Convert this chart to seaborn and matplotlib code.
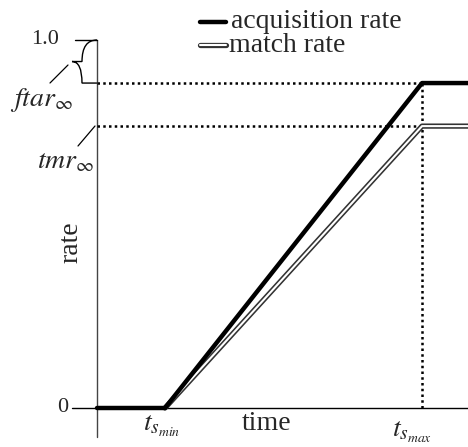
import numpy as np
import pandas as pd
import matplotlib
matplotlib.use("Agg")
import matplotlib.pyplot as plt
import seaborn as sns
from matplotlib.path import Path
from matplotlib.patches import PathPatch

# values (time in units of ts_min)
time_pts = [0.0, 1.0, 4.78, 5.5]
acq_rate = [0.0, 0.0, 0.883, 0.883]
match_time = [1.0, 4.78, 5.5]
match_rate = [0.0, 0.766, 0.766]
ftar_inf = 0.883
tmr_inf = 0.766
ts_min, ts_max = 1.0, 4.78

sns.set_style("white")
plt.rcParams['font.family'] = ['Liberation Serif', 'DejaVu Serif']
plt.rcParams['mathtext.fontset'] = 'stix'

# pixel -> data helpers for placing the hand-drawn annotations
def X(px):
    return (px - 97) / 68

def Y(py):
    return (408 - py) / 368

fig = plt.figure(figsize=(4.68, 4.47), dpi=100)
ax = fig.add_axes([0, 0, 1, 1])

acq = pd.DataFrame({'time': time_pts, 'rate': acq_rate})
mat = pd.DataFrame({'time': match_time, 'rate': match_rate})

# axes drawn by hand, like the original sketch
ax.plot([0, 0], [Y(437), 1.0], color='#444444', lw=1.0)
ax.plot([X(72), 6], [0, 0], color='black', lw=1.0)
ax.plot([X(75), 0], [1.0, 1.0], color='black', lw=1.0)

# dotted guides
dots = dict(color='black', lw=1.8, ls=(0, (1, 1.3)))
ax.plot([0, ts_max], [ftar_inf, ftar_inf], **dots)
ax.plot([0, ts_max], [tmr_inf, tmr_inf], **dots)
ax.plot([ts_max, ts_max], [0, ftar_inf], **dots)

# match rate: double line
sns.lineplot(data=mat, x='time', y='rate', ax=ax, color='#333333', lw=3.8, sort=False)
sns.lineplot(data=mat, x='time', y='rate', ax=ax, color='white', lw=1.5, sort=False)
# acquisition rate: thick line
sns.lineplot(data=acq, x='time', y='rate', ax=ax, color='black', lw=3.2, sort=False)
ax.set_xlim(X(0), X(468))
ax.set_ylim(Y(447), Y(0))
ax.axis('off')

# brace between 1.0 and ftar
x0 = 0.0
ym = (1.0 + ftar_inf) / 2
verts = [(x0, 1.0), (X(82), 1.0), (X(82), ym), (X(72), ym),
         (X(82), ym), (X(82), ftar_inf), (x0, ftar_inf)]
codes = [Path.MOVETO, Path.CURVE3, Path.CURVE3, Path.LINETO,
         Path.CURVE3, Path.CURVE3, Path.LINETO]
ax.add_patch(PathPatch(Path(verts, codes), fill=False, lw=1.0, color='black'))
ax.plot([X(50), X(68)], [Y(83), Y(65)], color='black', lw=0.9)
ax.plot([X(78), X(95)], [Y(146), Y(126)], color='black', lw=0.9)

fs = 20
ax.text(X(59), Y(40), '1.0', fontsize=16, ha='right', va='center')
ax.text(X(68), Y(408), '0', fontsize=16, ha='right', va='center')
ax.text(X(41), Y(100), r'$ftar_{\infty}$', fontsize=fs, ha='center', va='center')
ax.text(X(66), Y(162), r'$tmr_{\infty}$', fontsize=fs, ha='center', va='center')
ax.text(X(71), Y(242), 'rate', fontsize=fs, rotation=90, ha='center', va='center')
ax.text(X(267), Y(423), 'time', fontsize=fs, ha='center', va='center')
ax.text(X(162), Y(426), r'$t_{s_{min}}$', fontsize=fs, ha='center', va='center')
ax.text(X(412), Y(432), r'$t_{s_{max}}$', fontsize=fs, ha='center', va='center')

# legend drawn by hand
ax.plot([X(200), X(226)], [Y(22), Y(22)], color='black', lw=3.2)
ax.plot([X(200), X(226)], [Y(45), Y(45)], color='#333333', lw=3.8)
ax.plot([X(200), X(226)], [Y(45), Y(45)], color='white', lw=1.5)
ax.text(X(231), Y(22), 'acquisition rate', fontsize=fs, ha='left', va='center')
ax.text(X(229), Y(45), 'match rate', fontsize=fs, ha='left', va='center')

fig.savefig('out.png', dpi=100)
